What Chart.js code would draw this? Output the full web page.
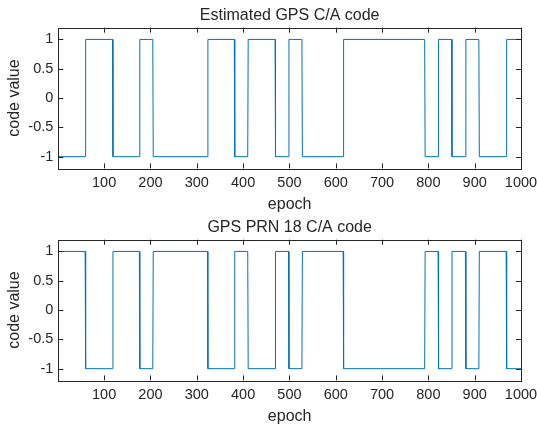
<!DOCTYPE html>
<html lang="en">
<head>
  <meta charset="UTF-8" />
  <title>GPS C/A code</title>
  <script src="https://cdn.jsdelivr.net/npm/chart.js@4.4.0/dist/chart.umd.min.js"></script>
  <style>
    html, body {
      margin: 0;
      padding: 0;
      background: #fff;
      width: 537px;
      height: 427px;
      overflow: hidden;
    }
    .plot {
      position: absolute;
      left: 0;
      width: 537px;
    }
    #topWrap { top: 0; height: 212px; }
    #botWrap { top: 211.6px; height: 215px; }
  </style>
</head>
<body>
  <div class="plot" id="topWrap"><canvas id="estChart"></canvas></div>
  <div class="plot" id="botWrap"><canvas id="prnChart"></canvas></div>

  <script>
    // epoch where each chip run starts (last entry = one past the end)
    const segmentStarts = [1, 60, 119, 177, 206, 324, 382, 411, 470, 499, 528, 617, 793, 822, 851, 881, 910, 969, 1001];
    // code value of each run
    const estimatedLevels = [-1, 1, -1, 1, -1, 1, -1, 1, -1, 1, -1, 1, -1, 1, -1, 1, -1, 1];
    const prn18Levels = [1, -1, 1, -1, 1, -1, 1, -1, 1, -1, 1, -1, 1, -1, 1, -1, 1, -1];

    const xTicks = [100, 200, 300, 400, 500, 600, 700, 800, 900, 1000];
    const yTicks = [-1, -0.5, 0, 0.5, 1];

    const textColor = '#262626';
    const lineColor = '#0072BD';
    const fontFamily = '"Liberation Sans", Arial, Helvetica, sans-serif';

    function stepPoints(levels) {
      const pts = [];
      for (let i = 0; i < levels.length; i++) {
        pts.push({ x: segmentStarts[i], y: levels[i] });
        pts.push({ x: Math.min(segmentStarts[i + 1] - 1, 1000), y: levels[i] });
      }
      return pts;
    }

    // box, inward ticks, title and axis labels (matlab look)
    const matlabAxes = {
      id: 'matlabAxes',
      afterDraw(chart, args, opts) {
        const { ctx, chartArea: a, scales } = chart;
        const tl = 5;
        ctx.save();
        ctx.strokeStyle = textColor;
        ctx.lineWidth = 1;
        ctx.beginPath();
        xTicks.forEach(v => {
          const px = Math.round(scales.x.getPixelForValue(v)) + 0.5;
          ctx.moveTo(px, a.bottom); ctx.lineTo(px, a.bottom - tl);
          ctx.moveTo(px, a.top); ctx.lineTo(px, a.top + tl);
        });
        yTicks.forEach(v => {
          const py = Math.round(scales.y.getPixelForValue(v)) + 0.5;
          ctx.moveTo(a.left, py); ctx.lineTo(a.left + tl, py);
          ctx.moveTo(a.right, py); ctx.lineTo(a.right - tl, py);
        });
        ctx.stroke();
        ctx.strokeRect(Math.round(a.left) + 0.5, Math.round(a.top) + 0.5,
          Math.round(a.right - a.left), Math.round(a.bottom - a.top));

        ctx.fillStyle = textColor;
        ctx.textAlign = 'center';
        ctx.textBaseline = 'middle';
        ctx.font = '16px ' + fontFamily;
        ctx.fillText(opts.title, (a.left + a.right) / 2, a.top - 12.5);
        ctx.fillText('epoch', (a.left + a.right) / 2, a.bottom + 36.5);
        ctx.translate(15, (a.top + a.bottom) / 2);
        ctx.rotate(-Math.PI / 2);
        ctx.fillText('code value', 0, 0);
        ctx.restore();
      }
    };

    function makeChart(id, levels, title, height) {
      return new Chart(document.getElementById(id), {
        type: 'line',
        data: {
          datasets: [{
            data: stepPoints(levels),
            borderColor: lineColor,
            borderWidth: 1,
            pointRadius: 0,
            tension: 0,
            fill: false
          }]
        },
        options: {
          responsive: true,
          maintainAspectRatio: false,
          animation: false,
          events: [],
          layout: { autoPadding: false, padding: { top: 27.7, right: 16, left: 0, bottom: 0 } },
          plugins: {
            legend: { display: false },
            tooltip: { enabled: false },
            matlabAxes: { title: title }
          },
          scales: {
            x: {
              type: 'linear',
              min: 1,
              max: 1000,
              afterBuildTicks: s => { s.ticks = xTicks.map(v => ({ value: v })); },
              afterFit: s => {
                s.height = height - 27.7 - 140.7;
                s.paddingLeft = 0;
                s.paddingRight = 0;
              },
              grid: { display: false, drawTicks: false },
              border: { display: false },
              ticks: {
                color: textColor,
                padding: 6,
                maxRotation: 0,
                autoSkip: false,
                callback: v => String(v),
                font: { family: fontFamily, size: 14.5 }
              }
            },
            y: {
              type: 'linear',
              min: -1.2,
              max: 1.2,
              afterBuildTicks: s => { s.ticks = yTicks.map(v => ({ value: v })); },
              afterFit: s => {
                s.width = 58.3;
                s.paddingTop = 0;
                s.paddingBottom = 0;
              },
              grid: { display: false, drawTicks: false },
              border: { display: false },
              ticks: {
                color: textColor,
                padding: 5,
                callback: v => String(v),
                font: { family: fontFamily, size: 14.5 }
              }
            }
          }
        },
        plugins: [matlabAxes]
      });
    }

    makeChart('estChart', estimatedLevels, 'Estimated GPS C/A code', 212);
    makeChart('prnChart', prn18Levels, 'GPS PRN 18 C/A code', 215);
  </script>
</body>
</html>
